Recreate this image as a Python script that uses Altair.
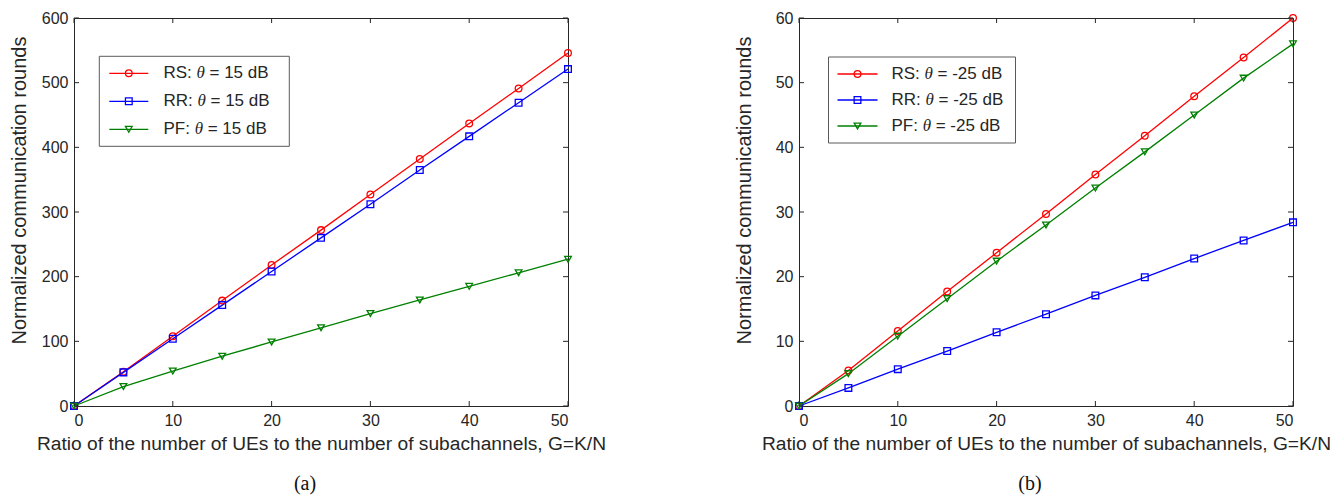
import altair as alt
import pandas as pd

# ---------------- data ----------------
G = [0, 5, 10, 15, 20, 25, 30, 35, 40, 45, 50]
series = ["RS", "RR", "PF"]
colors = ["#ff0000", "#0000ff", "#008000"]
shapes = ["circle", "square", "triangle-down"]

a_RS = [0, 53, 108, 163, 218, 272, 327, 382, 437, 491, 546]
a_RR = [0, 52, 104, 156, 208, 260, 312, 365, 417, 469, 521]
a_PF = [0, 30, 54, 77, 99, 121, 143, 164, 185, 206, 227]

b_RS = [0, 5.5, 11.6, 17.7, 23.7, 29.7, 35.8, 41.8, 47.9, 53.9, 60.0]
b_RR = [0, 2.8, 5.7, 8.5, 11.4, 14.2, 17.1, 19.9, 22.8, 25.6, 28.4]
b_PF = [0, 5.0, 10.8, 16.6, 22.4, 28.0, 33.7, 39.3, 45.0, 50.7, 56.0]

x_ticks = [0, 10, 20, 30, 40, 50]
a_yticks = [0, 100, 200, 300, 400, 500, 600]
b_yticks = [0, 10, 20, 30, 40, 50, 60]

a_theta = "15"
b_theta = "-25"

x_title = "Ratio of the number of UEs to the number of subachannels, G=K/N"
y_title = "Normalized communication rounds"

# ---------------- layout constants ----------------
W, H = 494, 388
SANS = "Liberation Sans"
SERIF = "Liberation Serif"
INK = "#262626"


def one():
    return alt.Chart(pd.DataFrame({"k": [0]}))


def panel(rs, rr, pf, ymax, yticks, theta, caption, leg):
    df = pd.DataFrame({
        "G": G * 3,
        "value": rs + rr + pf,
        "series": ["RS"] * len(G) + ["RR"] * len(G) + ["PF"] * len(G),
    })
    xenc = alt.X("G:Q", scale=alt.Scale(domain=[0, 50], nice=False, zero=False),
                 axis=alt.Axis(values=x_ticks, title=x_title, grid=False, domain=False,
                               ticks=False, tickSize=0, labelPadding=6,
                               titleY=43.5, titleBaseline="alphabetic"))
    yenc = alt.Y("value:Q", scale=alt.Scale(domain=[0, ymax], nice=False),
                 axis=alt.Axis(values=yticks, title=y_title, grid=False, domain=False,
                               ticks=False, tickSize=0, labelPadding=6,
                               titleX=-48.7, titleY=172, titleAngle=270,
                               titleAlign="center", titleBaseline="alphabetic"))
    color = alt.Color("series:N", scale=alt.Scale(domain=series, range=colors), legend=None)
    shape = alt.Shape("series:N", scale=alt.Scale(domain=series, range=shapes), legend=None)

    base = alt.Chart(df)
    lines = base.mark_line(strokeWidth=1.3).encode(x=xenc, y=yenc, color=color,
                                                   detail="series:N")
    pts = base.mark_point(filled=False, size=45, strokeWidth=1.3, opacity=1).encode(
        x=xenc, y=yenc, color=color, shape=shape)

    # inward ticks (MATLAB style box)
    xt = alt.Chart(pd.DataFrame({"G": x_ticks}))
    yt = alt.Chart(pd.DataFrame({"value": yticks}))
    tick_style = dict(color=INK, strokeWidth=1)
    ticks = [
        xt.mark_rule(**tick_style).encode(x=xenc, y=alt.value(0), y2=alt.value(5)),
        xt.mark_rule(**tick_style).encode(x=xenc, y=alt.value(H), y2=alt.value(H - 5)),
        yt.mark_rule(**tick_style).encode(y=yenc, x=alt.value(0), x2=alt.value(5)),
        yt.mark_rule(**tick_style).encode(y=yenc, x=alt.value(W), x2=alt.value(W - 5)),
    ]

    # legend
    bx0, bx1, by0, by1, lx0, lx1, tx, rows = leg
    layers = [lines, pts] + ticks
    layers.append(one().mark_rect(fill="white", stroke="#5a5a5a", strokeWidth=1).encode(
        x=alt.value(bx0), x2=alt.value(bx1), y=alt.value(by0), y2=alt.value(by1)))
    prefix_w = {"RS": 33.0, "RR": 34.0, "PF": 31.2}
    for s, c, sh, ry in zip(series, colors, shapes, rows):
        layers.append(one().mark_rule(color=c, strokeWidth=1.3).encode(
            x=alt.value(lx0), x2=alt.value(lx1), y=alt.value(ry)))
        layers.append(one().mark_point(filled=False, size=45, strokeWidth=1.3, opacity=1,
                                       color=c, shape=sh).encode(
            x=alt.value((lx0 + lx1) / 2), y=alt.value(ry)))
        layers.append(one().mark_text(text=s + ":", font=SANS, fontSize=17, align="left",
                                      baseline="middle", color=INK).encode(
            x=alt.value(tx), y=alt.value(ry)))
        th_x = tx + prefix_w[s]
        layers.append(one().mark_text(text="\u03b8", font=SERIF, fontSize=17, fontStyle="italic",
                                      align="left", baseline="middle", color=INK).encode(
            x=alt.value(th_x), y=alt.value(ry)))
        layers.append(one().mark_text(text="= " + theta + " dB", font=SANS, fontSize=17,
                                      align="left", baseline="middle", color=INK).encode(
            x=alt.value(th_x + 13), y=alt.value(ry)))

    # caption
    layers.append(one().mark_text(text=caption, font=SERIF, fontSize=20, align="center",
                                  baseline="middle", color="#111").encode(
        x=alt.value(W / 2 - 16), y=alt.value(466)))

    return alt.layer(*layers).properties(width=W, height=H)


pa = panel(a_RS, a_RR, a_PF, 600, a_yticks, a_theta, "(a)",
           (25.3, 215.3, 38.3, 128.3, 35.3, 74.3, 89.5, [55.3, 83.3, 111.3]))
pb = panel(b_RS, b_RR, b_PF, 60, b_yticks, b_theta, "(b)",
           (29.5, 216.5, 39.0, 125.0, 38.5, 78.5, 92.5, [56.0, 82.0, 108.0]))

chart = alt.hconcat(pa, pb, spacing=231, bounds="flush").configure_view(
    stroke=INK, strokeWidth=1
).configure_axis(
    labelFont=SANS, labelFontSize=16, labelColor=INK,
    titleFont=SANS, titleFontSize=19.2, titleFontWeight="normal", titleColor=INK,
).configure_axisLeft(titleFontSize=20).properties(
    padding={"left": 8, "top": 9, "right": 0, "bottom": 0}
)

chart.save("out.html", embed_options={"renderer": "svg", "actions": False})
